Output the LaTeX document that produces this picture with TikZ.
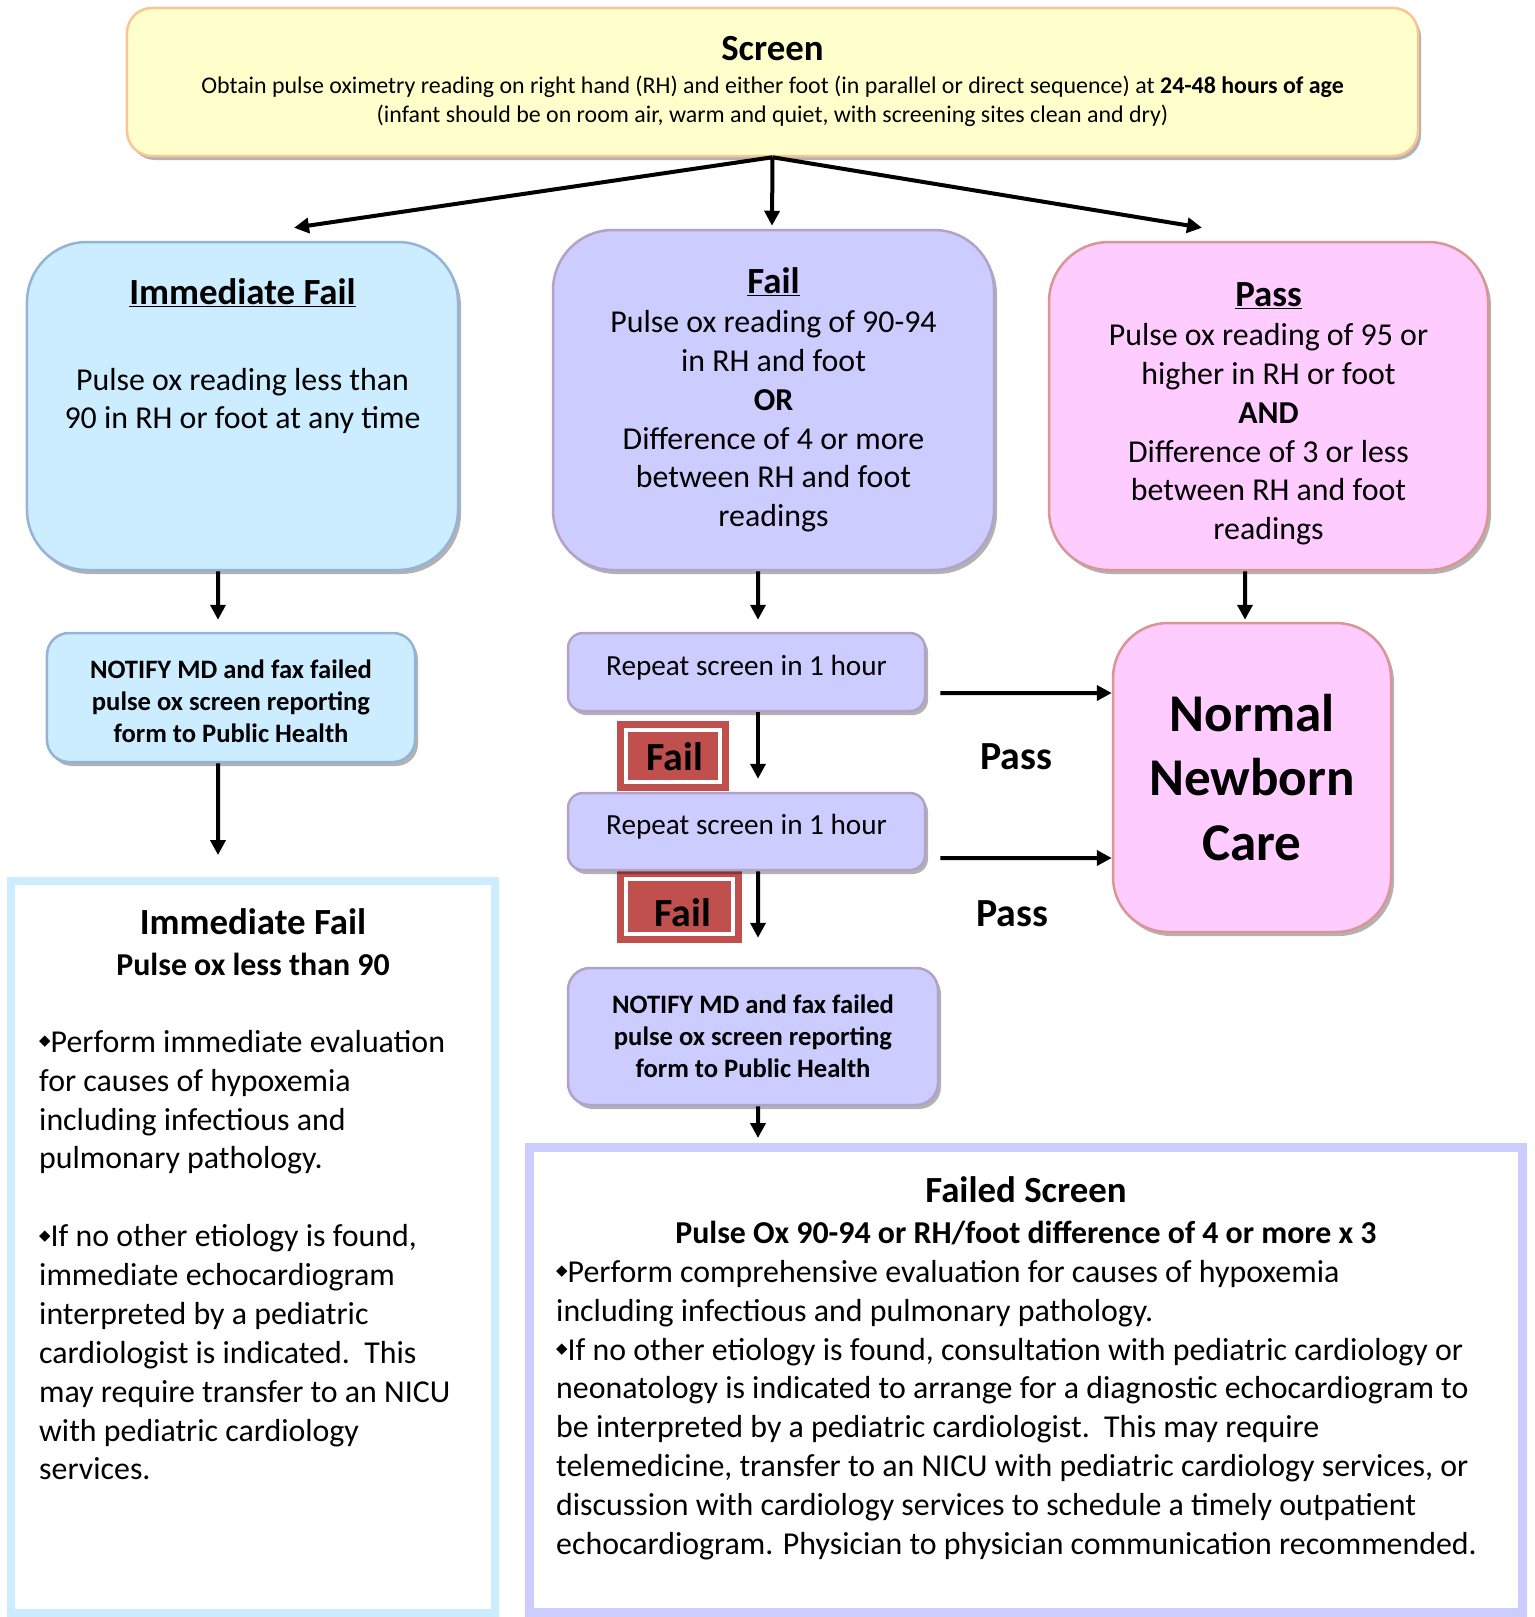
\documentclass[tikz,border=0pt]{standalone}
\usepackage{fontspec}
\setmainfont{Carlito}
\newfontfamily\symfont{DejaVu Sans}
\usetikzlibrary{arrows.meta,shadows,calc}

\definecolor{scrfill}{HTML}{FFFFCC}
\definecolor{scrdraw}{HTML}{F9C594}
\definecolor{bluefill}{HTML}{CCECFF}
\definecolor{bluedraw}{HTML}{95B3D7}
\definecolor{purfill}{HTML}{CCCCFF}
\definecolor{purdraw}{HTML}{B3A2C7}
\definecolor{pinkfill}{HTML}{FFCCFF}
\definecolor{pinkdraw}{HTML}{D99694}
\definecolor{failred}{HTML}{C0504D}

\newcommand{\fsz}[2]{\fontsize{#1}{#2}\selectfont}
\newcommand{\dbul}{{\symfont\fontsize{15}{15}\selectfont\raisebox{6.5bp}{◆}}}

\tikzset{
  box/.style={rounded corners=#1, line width=2.5bp, inner sep=0pt,
    drop shadow={shadow xshift=3bp, shadow yshift=-4bp, fill=black, opacity=0.3}},
  ybox/.style={box=#1, fill=scrfill, draw=scrdraw},
  bbox/.style={box=#1, fill=bluefill, draw=bluedraw},
  pbox/.style={box=#1, fill=purfill, draw=purdraw},
  kbox/.style={box=#1, fill=pinkfill, draw=pinkdraw},
  failtag/.style={fill=failred, draw=white, line width=4bp, inner sep=0pt,
    preaction={draw=failred, line width=18bp}},
  txt/.style={inner sep=0pt, align=center, font=\fsz{32}{39}},
  ttl/.style={inner sep=0pt, align=center, font=\fsz{37}{44}\bfseries},
  arr/.style={line width=4bp, -{Triangle[length=15bp, width=15bp]}},
  outband/.style={line width=8bp},
}

\begin{document}
\begin{tikzpicture}[x=1bp, y=-1bp]
\useasboundingbox (0,0) rectangle (1535,1617);

% ---------- top screen box
\node[ybox=25bp, minimum width=1291bp, minimum height=148bp] (screen) at (772.5,82) {};
\node[ttl] (screenttl) at (772.5,49) {Screen};
\node[txt, font=\fsz{24}{29}] (screentxt) at (772.5,101)
  {Obtain pulse oximetry reading on right hand (RH) and either foot (in parallel or direct sequence) at \textbf{24-48 hours of age}\\
   (infant should be on room air, warm and quiet, with screening sites clean and dry)};

% ---------- three result boxes
\node[bbox=60bp, minimum width=431bp, minimum height=328bp] (imf) at (242.5,406) {};
\node[ttl] (imfttl) at (242.5,293) {\underline{Immediate Fail}};
\node[txt] (imftxt) at (242.5,401) {Pulse ox reading less than\\ 90 in RH or foot at any time};

\node[pbox=60bp, minimum width=441bp, minimum height=340bp] (fail) at (773.5,400) {};
\node[txt] (failtxt) at (773.5,400)
  {{\fsz{37}{44}\bfseries\underline{Fail}}\\ Pulse ox reading of 90-94\\ in RH and foot\\ \textbf{OR}\\ Difference of 4 or more\\ between RH and foot\\ readings};

\node[kbox=60bp, minimum width=439bp, minimum height=328bp] (pass) at (1268.5,406) {};
\node[txt] (passtxt) at (1268.5,414)
  {{\fsz{37}{44}\bfseries\underline{Pass}}\\ Pulse ox reading of 95 or\\ higher in RH or foot\\ \textbf{AND}\\ Difference of 3 or less\\ between RH and foot\\ readings};

% ---------- left column
\node[bbox=22bp, minimum width=368bp, minimum height=129bp] (notify1) at (231,697.5) {};
\node[txt, font=\fsz{26.7}{32}\bfseries] (notify1txt) at (231,701)
  {NOTIFY MD and fax failed\\ pulse ox screen reporting\\ form to Public Health};

\node[draw=bluefill, outband, minimum width=484bp, minimum height=732bp, inner sep=0pt] (immbox) at (253,1247) {};
\draw[bluefill, line width=2bp] ([shift={(6,6)}]immbox.north west) rectangle ([shift={(-6,-6)}]immbox.south east);
\node[ttl] (immttl) at (253,922) {Immediate Fail};
\node[txt, font=\fsz{32}{39}\bfseries] (immsub) at (253,964) {Pulse ox less than 90};
\node[txt, align=left, anchor=north west] (immbody) at (39,1030)
  {\dbul Perform immediate evaluation\\ for causes of hypoxemia\\ including infectious and\\ pulmonary pathology.\\[39bp]
   \dbul If no other etiology is found,\\ immediate echocardiogram\\ interpreted by a pediatric\\ cardiologist is indicated.\ \ This\\ may require transfer to an NICU\\ with pediatric cardiology\\ services.};

% ---------- middle column
\node[failtag, minimum width=94bp, minimum height=52bp] (fail1) at (673,756) {};
\node[inner sep=0pt, font=\fsz{40}{48}\bfseries] (fail1t) at (675,757) {Fail};
\node[failtag, minimum width=107bp, minimum height=55bp] (fail2) at (679.5,906.5) {};
\node[inner sep=0pt, font=\fsz{40}{48}\bfseries] (fail2t) at (683,913) {Fail};

\node[pbox=15bp, minimum width=357bp, minimum height=78bp] (rep1) at (746.5,672) {};
\node[inner sep=0pt, font=\fsz{29.3}{36}] (rep1txt) at (746.5,668) {Repeat screen in 1 hour};
\node[pbox=15bp, minimum width=357bp, minimum height=77bp] (rep2) at (746.5,831.5) {};
\node[inner sep=0pt, font=\fsz{29.3}{36}] (rep2txt) at (746.5,827) {Repeat screen in 1 hour};

\node[pbox=22bp, minimum width=370bp, minimum height=137bp] (notify2) at (753,1036.5) {};
\node[txt, font=\fsz{26.7}{32}\bfseries] (notify2txt) at (753,1036.5)
  {NOTIFY MD and fax failed\\ pulse ox screen reporting\\ form to Public Health};

\node[draw=purfill, line width=9bp, minimum width=993bp, minimum height=465bp, inner sep=0pt] (fsbox) at (1026,1380) {};
\draw[purfill, line width=2.5bp] ([shift={(7.5,7.5)}]fsbox.north west) rectangle ([shift={(-7.5,-7.5)}]fsbox.south east);
\node[ttl] (fsttl) at (1026,1190) {Failed Screen};
\node[txt, font=\fsz{32}{39}\bfseries] (fssub) at (1026,1233) {Pulse Ox 90-94 or RH/foot difference of 4 or more x 3};
\node[txt, align=left, anchor=north west] (fsbody) at (556,1260)
  {\dbul Perform comprehensive evaluation for causes of hypoxemia\\
   including infectious and pulmonary pathology.\\
   \dbul If no other etiology is found, consultation with pediatric cardiology or\\
   neonatology is indicated to arrange for a diagnostic echocardiogram to\\
   be interpreted by a pediatric cardiologist.\ \ This may require\\
   telemedicine, transfer to an NICU with pediatric cardiology services, or\\
   discussion with cardiology services to schedule a timely outpatient\\
   echocardiogram. Physician to physician communication recommended.};

% ---------- right column
\node[kbox=55bp, minimum width=278bp, minimum height=309bp, txt, font=\fsz{53.3}{65}\bfseries] (normal) at (1252,777.5)
  {Normal\\ Newborn\\ Care};
\node[inner sep=0pt, font=\fsz{40}{48}\bfseries] (pass1) at (1016,757) {Pass};
\node[inner sep=0pt, font=\fsz{40}{48}\bfseries] (pass2) at (1012,914) {Pass};

% ---------- connectors
\draw[arr] (screen.south) -- ([xshift=51.5bp, yshift=13bp]imf.north);
\draw[arr] (screen.south) -- ([xshift=-1.5bp, yshift=3bp]fail.north);
\draw[arr] (screen.south) -- ([xshift=-66.5bp, yshift=13bp]pass.north);
\draw[arr] ([xshift=-24.5bp]imf.south) -- ([xshift=-13bp, yshift=12bp]notify1.north);
\draw[arr] ([xshift=-13bp]notify1.south) -- ([xshift=-35bp, yshift=22bp]immbox.north);
\draw[arr] ([xshift=-15.5bp]fail.south) -- ([xshift=11.5bp, yshift=12bp]rep1.north);
\draw[arr] ([xshift=11.5bp]rep1.south) -- ([xshift=11.5bp, yshift=13bp]rep2.north);
\draw[arr] ([xshift=11.5bp]rep2.south) -- ([xshift=5bp, yshift=29bp]notify2.north);
\draw[arr] ([xshift=5bp]notify2.south) -- ([xshift=-268bp, yshift=5bp]fsbox.north);
\draw[arr] ([xshift=-23.5bp]pass.south) -- ([xshift=-7bp, yshift=2bp]normal.north);
\draw[arr] ([xshift=14bp, yshift=-21bp]rep1.east) -- ([yshift=84.5bp]normal.west);
\draw[arr] ([xshift=14bp, yshift=-26.5bp]rep2.east) -- ([yshift=-80.5bp]normal.west);
\end{tikzpicture}
\end{document}
